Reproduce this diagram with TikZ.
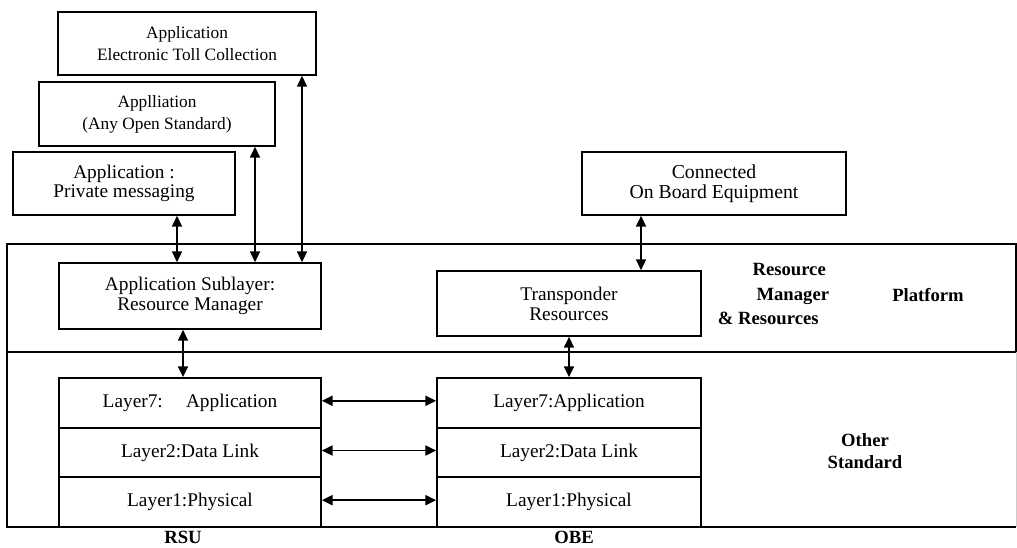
\documentclass[tikz,border=0pt]{standalone}
\usepackage{fontspec}
\setmainfont{Liberation Serif}
\usetikzlibrary{arrows.meta,calc,positioning}

\begin{document}
\begin{tikzpicture}[x=0.75pt,y=-0.75pt,line width=1.3pt,
                    >={Triangle[length=8pt,width=7.5pt]},
                    box/.style={draw,rectangle,inner sep=0pt,align=center,
                                font=\fontsize{14.5}{15}\selectfont},
                    size/.style 2 args={minimum width=#1*0.75pt,minimum height=#2*0.75pt},
                    link/.style={<->,shorten <=0pt,shorten >=0pt},
                    tag/.style={align=center,inner sep=0pt,
                                font=\fontsize{14}{16.5}\selectfont\bfseries}]

  \useasboundingbox (0,0) rectangle (1017,547);

  % bands
  \draw (7,244) rectangle (1016,352);
  \draw (7,352) -- (7,527) -- (1016,527);
  \draw[gray!40,line width=0.6pt] (1016,352) -- (1016,527);

  % applications
  \node[box,size={258}{63},font=\fontsize{13}{16}\selectfont]   (etc)  at (187,43.5)
       {Application\\Electronic Toll Collection};
  \node[box,size={236}{64},font=\fontsize{13}{16.5}\selectfont] (open) at (157,114)
       {Applliation\\(Any Open Standard)};
  \node[box,size={222}{63},font=\fontsize{14.5}{14}\selectfont] (pm)   at (124,183.5)
       {Application~:\\Private messaging};
  \node[box,size={264}{63},font=\fontsize{14.8}{15}\selectfont] (con)  at (714,183.5)
       {Connected\\On Board Equipment};

  % platform
  \node[box,size={262}{66}] (sub)   at (190,296)   {Application Sublayer:\\Resource Manager};
  \node[box,size={264}{65}] (trans) at (569,303.5) {Transponder\\Resources};

  % layer stacks
  \node[box,size={262}{49.7}] (rsu7) at (190,402.8) {Layer7:\hspace{1.2em}Application};
  \node[box,size={262}{49.7}] (rsu2) at (190,452.5) {Layer2:Data Link};
  \node[box,size={262}{49.7}] (rsu1) at (190,502.2) {Layer1:Physical};
  \node[box,size={264}{49.7}] (obe7) at (569,402.8) {Layer7:Application};
  \node[box,size={264}{49.7}] (obe2) at (569,452.5) {Layer2:Data Link};
  \node[box,size={264}{49.7}] (obe1) at (569,502.2) {Layer1:Physical};

  % labels
  \node[tag,anchor=west,align=left,font=\fontsize{14}{18.5}\selectfont\bfseries] (rmr) at (717,294)
       {\hspace*{26pt}Resource\\\hspace*{29pt}Manager\\\& Resources};
  \node[tag] (plat)  at (928,295) {Platform};
  \node[tag] (other) at (865,451) {Other\\Standard};
  \node[tag] (rsu)   at (183,537) {RSU};
  \node[tag] (obe)   at (574,537) {OBE};

  % connectors
  \coordinate (pmx)  at ($(pm.south)+(53,0)$);
  \coordinate (opx)  at ($(open.south)+(98,0)$);
  \coordinate (etcx) at ($(etc.south)+(115,0)$);
  \coordinate (conx) at ($(con.south)+(-73,0)$);
  \coordinate (subx) at ($(sub.south)+(-7,0)$);

  \draw[link] (pmx)  -- (pmx |- sub.north);
  \draw[link] (opx)  -- (opx |- sub.north);
  \draw[link] (etcx) -- (etcx |- sub.north);
  \draw[link] (conx) -- (conx |- trans.north);
  \draw[link] (subx) -- (subx |- rsu7.north);
  \draw[link] (trans) -- (obe7);

  \draw[link] ([yshift=1.5pt]rsu7.east) -- ([yshift=1.5pt]obe7.west);
  \draw[link] ([yshift=1.5pt]rsu2.east) -- ([yshift=1.5pt]obe2.west);
  \draw[link] ([yshift=1.5pt]rsu1.east) -- ([yshift=1.5pt]obe1.west);
\end{tikzpicture}
\end{document}
